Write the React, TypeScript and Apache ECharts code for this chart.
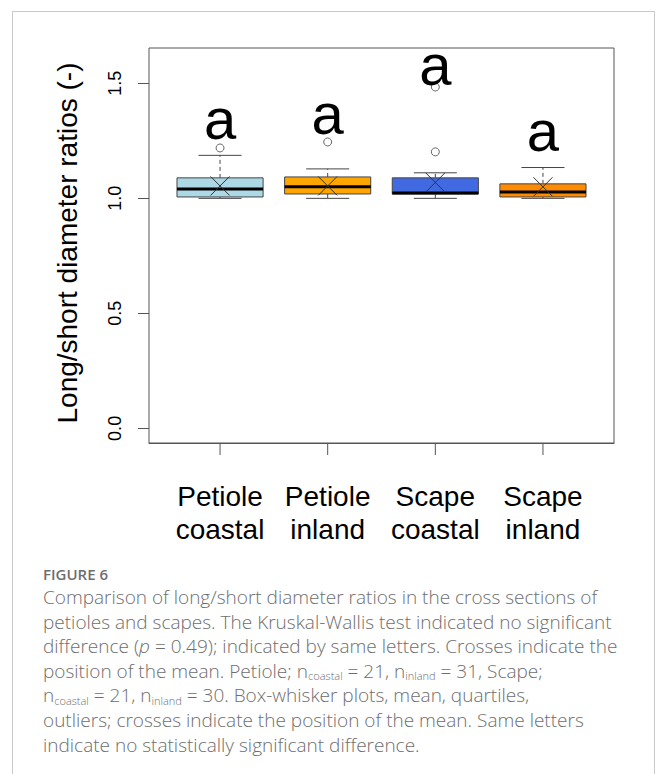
import React, { useEffect, useRef } from 'react';
import * as echarts from 'echarts';

// ---- data ----
const categories = ['Petiole\ncoastal', 'Petiole\ninland', 'Scape\ncoastal', 'Scape\ninland'];
const boxColors = ['#ADD8E6', '#FFA500', '#4169E1', '#FF8C00'];
const whiskerLow = [1.0, 1.0, 1.0, 1.0];
const quartile1 = [1.006, 1.019, 1.019, 1.006];
const medians = [1.041, 1.05, 1.023, 1.028];
const quartile3 = [1.089, 1.093, 1.089, 1.063];
const whiskerHigh = [1.187, 1.128, 1.111, 1.134];
const means = [1.054, 1.054, 1.069, 1.05];
const outlierGroup = [1, 2, 3, 3];
const outlierValues = [1.219, 1.245, 1.202, 1.484];
const letters = ['a', 'a', 'a', 'a'];
const letterValues = [1.345, 1.367, 1.584, 1.297];
const yTicks = [0, 0.5, 1.0, 1.5];
const xTicks = [1, 2, 3, 4];

const FONT = '"Liberation Sans", Arial, sans-serif';
const STROKE = '#454545';

function Chart() {
  const ref = useRef<HTMLDivElement>(null);
  useEffect(() => {
    if (!ref.current) return;
    const chart = echarts.init(ref.current, null, { renderer: 'svg' });
    const boxData = categories.map((_, i) => [
      i + 1,
      whiskerLow[i],
      quartile1[i],
      medians[i],
      quartile3[i],
      whiskerHigh[i],
      means[i],
    ]);
    const option: any = {
      animation: false,
      grid: {
        left: 149,
        top: 48,
        width: 465,
        height: 395,
        show: true,
        borderColor: '#555',
        borderWidth: 1,
        backgroundColor: 'rgba(0,0,0,0)',
      },
      xAxis: {
        type: 'value',
        min: 0.34,
        max: 4.66,
        splitLine: { show: false },
        axisLine: { show: true, onZero: false, lineStyle: { color: '#555', width: 1 } },
        axisTick: { show: false },
        axisLabel: {
          customValues: xTicks,
          formatter: (v: number) => categories[Math.round(v) - 1] || '',
          fontSize: 28,
          lineHeight: 33,
          margin: 37,
          color: '#000',
          fontFamily: FONT,
        },
      },
      yAxis: {
        type: 'value',
        min: -0.0636,
        max: 1.6536,
        splitLine: { show: false },
        axisLine: { show: false, onZero: false },
        axisTick: {
          show: true,
          inside: false,
          customValues: yTicks,
          length: 11,
          lineStyle: { color: '#555', width: 1 },
        },
        axisLabel: {
          customValues: yTicks,
          rotate: 90,
          formatter: (v: number) => v.toFixed(1),
          fontSize: 18,
          margin: 25,
          color: '#000',
          fontFamily: FONT,
        },
      },
      graphic: [
        {
          type: 'text',
          x: 67,
          y: 243,
          rotation: Math.PI / 2,
          style: {
            text: 'Long/short diameter ratios (-)',
            fontSize: 28,
            fontFamily: FONT,
            fill: '#000',
            align: 'center',
            verticalAlign: 'middle',
          },
        },
      ],
      series: [
        {
          type: 'custom',
          name: 'xticks',
          data: xTicks.map((t) => [t, 0]),
          encode: { x: 0, y: 1 },
          renderItem: (params: any, api: any) => {
            const cs = params.coordSys;
            const px = api.coord([api.value(0), 0])[0];
            const yb = cs.y + cs.height;
            return {
              type: 'line',
              shape: { x1: px, y1: yb, x2: px, y2: yb + 12 },
              style: { stroke: '#555', lineWidth: 1 },
            };
          },
          clip: false,
          silent: true,
          z: 1,
        },
        {
          type: 'custom',
          name: 'box',
          data: boxData,
          encode: { x: 0, y: [1, 2, 3, 4, 5, 6] },
          renderItem: (params: any, api: any) => {
            const i = params.dataIndex;
            const x = api.value(0);
            const w = api.size([0.8, 0])[0];
            const cx = api.coord([x, api.value(1)])[0];
            const yLo = api.coord([x, api.value(1)])[1];
            const yQ1 = api.coord([x, api.value(2)])[1];
            const yMed = api.coord([x, api.value(3)])[1];
            const yQ3 = api.coord([x, api.value(4)])[1];
            const yHi = api.coord([x, api.value(5)])[1];
            const yMean = api.coord([x, api.value(6)])[1];
            const cs = 9.5;
            const thin = { stroke: STROKE, lineWidth: 1 };
            return {
              type: 'group',
              children: [
                { type: 'line', shape: { x1: cx, y1: yQ3, x2: cx, y2: yHi }, style: { ...thin, lineDash: [4, 3] } },
                { type: 'line', shape: { x1: cx, y1: yQ1, x2: cx, y2: yLo }, style: { ...thin, lineDash: [4, 3] } },
                { type: 'line', shape: { x1: cx - w / 4, y1: yHi, x2: cx + w / 4, y2: yHi }, style: thin },
                { type: 'line', shape: { x1: cx - w / 4, y1: yLo, x2: cx + w / 4, y2: yLo }, style: thin },
                {
                  type: 'rect',
                  shape: { x: cx - w / 2, y: yQ3, width: w, height: yQ1 - yQ3 },
                  style: { fill: boxColors[i], stroke: STROKE, lineWidth: 1 },
                },
                {
                  type: 'line',
                  shape: { x1: cx - w / 2, y1: yMed, x2: cx + w / 2, y2: yMed },
                  style: { stroke: '#000', lineWidth: 3 },
                },
                { type: 'line', shape: { x1: cx - cs, y1: yMean - cs, x2: cx + cs, y2: yMean + cs }, style: { stroke: '#333', lineWidth: 1 } },
                { type: 'line', shape: { x1: cx - cs, y1: yMean + cs, x2: cx + cs, y2: yMean - cs }, style: { stroke: '#333', lineWidth: 1 } },
              ],
            };
          },
          z: 2,
        },
        {
          type: 'scatter',
          name: 'outliers',
          data: outlierGroup.map((g, i) => [g, outlierValues[i]]),
          symbol: 'circle',
          symbolSize: 8,
          itemStyle: { color: 'rgba(255,255,255,0)', borderColor: STROKE, borderWidth: 1 },
          z: 3,
        },
        {
          type: 'custom',
          name: 'letters',
          data: letters.map((_, i) => [i + 1, letterValues[i]]),
          encode: { x: 0, y: 1 },
          renderItem: (params: any, api: any) => {
            const p = api.coord([api.value(0), api.value(1)]);
            return {
              type: 'text',
              x: p[0],
              y: p[1],
              style: {
                text: letters[params.dataIndex],
                fontSize: 58,
                fontFamily: FONT,
                fill: '#000',
                align: 'center',
                verticalAlign: 'middle',
              },
            };
          },
          z: 4,
        },
      ],
    };
    chart.setOption(option);
    return () => chart.dispose();
  }, []);
  return <div ref={ref} style={{ position: 'absolute', left: 0, top: 0, width: 656, height: 560 }} />;
}

const sub: React.CSSProperties = { fontSize: 11, lineHeight: '10px', verticalAlign: '-0.2em', display: 'inline-block' };

export default function App() {
  return (
    <div style={{ position: 'absolute', left: 0, top: 0, width: 656, height: 774, overflow: 'hidden', background: '#fff' }}>
      <Chart />
      <div
        style={{
          position: 'absolute',
          left: 12,
          top: 11,
          width: 643,
          height: 820,
          boxSizing: 'border-box',
          border: '1px solid #cacaca',
          pointerEvents: 'none',
        }}
      />
      <div
        style={{
          position: 'absolute',
          left: 43,
          top: 563,
          width: 610,
          fontFamily: '"Open Sans", sans-serif',
          color: '#6e6e6e',
          whiteSpace: 'nowrap',
        }}
      >
        <div style={{ fontSize: 15, fontWeight: 600, lineHeight: '22px' }}>FIGURE 6</div>
        <div style={{ fontSize: 19, fontWeight: 300, lineHeight: '24.6px' }}>
          <div>Comparison of long/short diameter ratios in the cross sections of</div>
          <div>petioles and scapes. The Kruskal-Wallis test indicated no significant</div>
          <div>
            difference (<i>p</i> = 0.49); indicated by same letters. Crosses indicate the
          </div>
          <div style={{ height: 24.6 }}>
            position of the mean. Petiole; n<span style={sub}>coastal</span> = 21, n<span style={sub}>inland</span> = 31, Scape;
          </div>
          <div style={{ height: 24.6 }}>
            n<span style={sub}>coastal</span> = 21, n<span style={sub}>inland</span> = 30. Box-whisker plots, mean, quartiles,
          </div>
          <div>outliers; crosses indicate the position of the mean. Same letters</div>
          <div>indicate no statistically significant difference.</div>
        </div>
      </div>
    </div>
  );
}
